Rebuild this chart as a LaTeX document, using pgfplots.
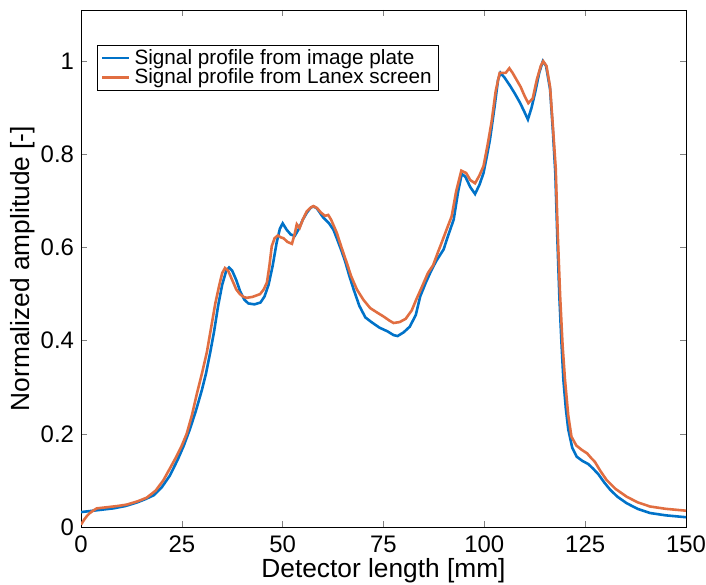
\documentclass[border=0pt]{standalone}
\usepackage{pgfplots}
\pgfplotsset{compat=1.18}
\usepackage{fontspec}
\setmainfont{Liberation Sans}
\definecolor{mblue}{RGB}{0,114,200}
\definecolor{morange}{RGB}{225,110,65}
\begin{document}
\begin{tikzpicture}
\begin{axis}[
    scale only axis,
    width=302.5bp, height=258.5bp,
    xmin=0, xmax=150, ymin=0, ymax=1.11,
    xtick={0,25,50,75,100,125,150},
    ytick={0,0.2,0.4,0.6,0.8,1},
    yticklabels={0,0.2,0.4,0.6,0.8,1},
    tick pos=both, tick align=inside,
    major tick length=3bp,
    /pgf/number format/assume math mode=true,
    tick label style={font=\fontsize{12}{14}\selectfont},
    xticklabel style={yshift=-1bp},
    xlabel={Detector length [mm]},
    ylabel={Normalized amplitude [-]},
    xlabel style={at={(axis description cs:0.5,-0.0986)}, anchor=base,
      font=\fontsize{13.2}{15}\selectfont},
    ylabel style={at={(axis description cs:-0.0959,0.5)}, rotate=0, anchor=center,
      font=\fontsize{13.2}{15}\selectfont},
    legend style={at={(0.027,0.932)}, anchor=north west, draw=black,
      font=\fontsize{10.4}{11.5}\selectfont, inner sep=1.5bp, row sep=0pt,
      nodes={inner ysep=0.3bp}, cells={anchor=west}},
    legend image code/.code={\draw[#1] (0cm,0cm) -- (0.48cm,0cm);},
  ]
  \addplot[mblue, line width=1.3pt] coordinates {
    (0,0.032)(2,0.034)(5,0.037)(8,0.040)(11,0.045)(14,0.053)(16,0.060)(18,0.068)
    (20,0.085)(22,0.11)(24,0.145)(25.5,0.175)(27,0.21)(28.5,0.25)(30,0.295)(31,0.33)
    (32,0.373)(33,0.42)(34,0.475)(35,0.52)(36,0.55)(36.7,0.557)(37.5,0.55)(38.5,0.53)
    (39.5,0.505)(40.5,0.488)(41.5,0.48)(43,0.478)(44.5,0.482)(45.5,0.495)(46.5,0.52)
    (47.5,0.56)(48.5,0.61)(49.3,0.64)(50,0.652)(51,0.638)(52,0.628)(53,0.625)(54,0.64)
    (55,0.66)(56,0.675)(57,0.686)(57.7,0.688)(58.5,0.684)(60,0.665)(61.5,0.652)
    (62.6,0.638)(63.5,0.618)(64.5,0.595)(65.5,0.57)(66.5,0.54)(67.6,0.51)(69,0.475)
    (70.5,0.45)(72,0.44)(74,0.428)(76,0.42)(77.5,0.412)(78.5,0.41)(80,0.418)(81.5,0.43)
    (83,0.455)(84.1,0.495)(85.5,0.525)(86.6,0.546)(88,0.57)(89.9,0.596)(91,0.625)
    (92.4,0.66)(93.5,0.72)(94.4,0.758)(95.3,0.752)(96.5,0.73)(97.7,0.715)(98.8,0.735)
    (99.8,0.76)(100.6,0.795)(101.4,0.832)(102.5,0.9)(103.4,0.96)(104,0.975)(105,0.965)
    (106.4,0.947)(107.6,0.93)(108.9,0.91)(110,0.89)(110.8,0.875)(111.7,0.9)(112.6,0.933)
    (113.6,0.975)(114.5,1.0)(115.3,0.99)(116.3,0.94)(117,0.85)(117.6,0.76)(118.1,0.62)
    (118.6,0.495)(119.1,0.4)(119.6,0.316)(120.2,0.255)(120.8,0.21)(121.8,0.17)
    (122.9,0.151)(124.3,0.142)(125.8,0.135)(127,0.125)(128.3,0.113)(129.7,0.096)
    (131.2,0.08)(133,0.065)(135.3,0.051)(138,0.039)(141.1,0.03)(145,0.025)(150,0.021)
  };
  \addlegendentry{Signal profile from image plate}
  \addplot[morange, line width=1.3pt] coordinates {
    (0,0.005)(0.8,0.016)(1.5,0.024)(2.2,0.03)(3,0.035)(3.9,0.04)(6,0.042)(9,0.045)
    (11.3,0.048)(14,0.055)(16.3,0.063)(18.5,0.078)(20.4,0.1)(22,0.125)(23.7,0.152)
    (25,0.175)(26.2,0.2)(27.5,0.24)(28.7,0.285)(30,0.33)(31.2,0.375)(32.3,0.43)
    (33.3,0.48)(34.3,0.52)(35,0.545)(35.7,0.556)(36.5,0.55)(37.5,0.53)(38.5,0.51)
    (39.4,0.5)(40.3,0.494)(41.1,0.492)(42.5,0.494)(44.4,0.5)(45.3,0.51)(46.1,0.525)
    (46.7,0.56)(47.3,0.603)(48,0.62)(48.8,0.626)(49.5,0.622)(50.2,0.62)(51.2,0.612)
    (52.3,0.608)(53,0.63)(53.5,0.65)(54.2,0.642)(55,0.66)(56,0.678)(57,0.686)
    (57.6,0.689)(58.5,0.685)(59.5,0.675)(60.5,0.668)(61.3,0.67)(62,0.66)(63.4,0.632)
    (64.6,0.6)(65.9,0.567)(67,0.538)(68.4,0.51)(70,0.488)(71.7,0.47)(73.5,0.46)
    (75,0.452)(76.5,0.443)(77.5,0.438)(79,0.44)(80.5,0.447)(82,0.465)(83.2,0.49)
    (84.5,0.515)(86,0.545)(87.3,0.562)(88.5,0.59)(89.4,0.61)(90.7,0.64)(91.9,0.667)
    (93,0.72)(94.3,0.765)(95.5,0.76)(96.5,0.745)(97.7,0.738)(98.8,0.755)(99.8,0.775)
    (100.8,0.82)(101.8,0.87)(102.8,0.935)(103.8,0.975)(104.5,0.975)(105.3,0.975)
    (106.2,0.985)(107,0.975)(108,0.96)(109,0.945)(110,0.925)(110.9,0.91)(112,0.92)
    (113,0.96)(114,0.99)(114.6,1.0)(115.4,0.99)(116.3,0.945)(117,0.86)(117.7,0.77)
    (118.2,0.63)(118.8,0.495)(119.4,0.39)(120,0.316)(120.8,0.24)(121.6,0.194)
    (122.8,0.175)(124.1,0.166)(125.5,0.158)(126.5,0.148)(127.4,0.14)(128.8,0.12)
    (130.3,0.101)(132.5,0.082)(135.3,0.065)(138,0.053)(141.1,0.044)(145,0.039)(150,0.035)
  };
  \addlegendentry{Signal profile from Lanex screen}
\end{axis}
\pgfresetboundingbox
\path ([xshift=-40.5bp,yshift=-29bp]current axis.south west)
  rectangle ([xshift=10bp,yshift=5bp]current axis.north east);
\end{tikzpicture}
\end{document}
